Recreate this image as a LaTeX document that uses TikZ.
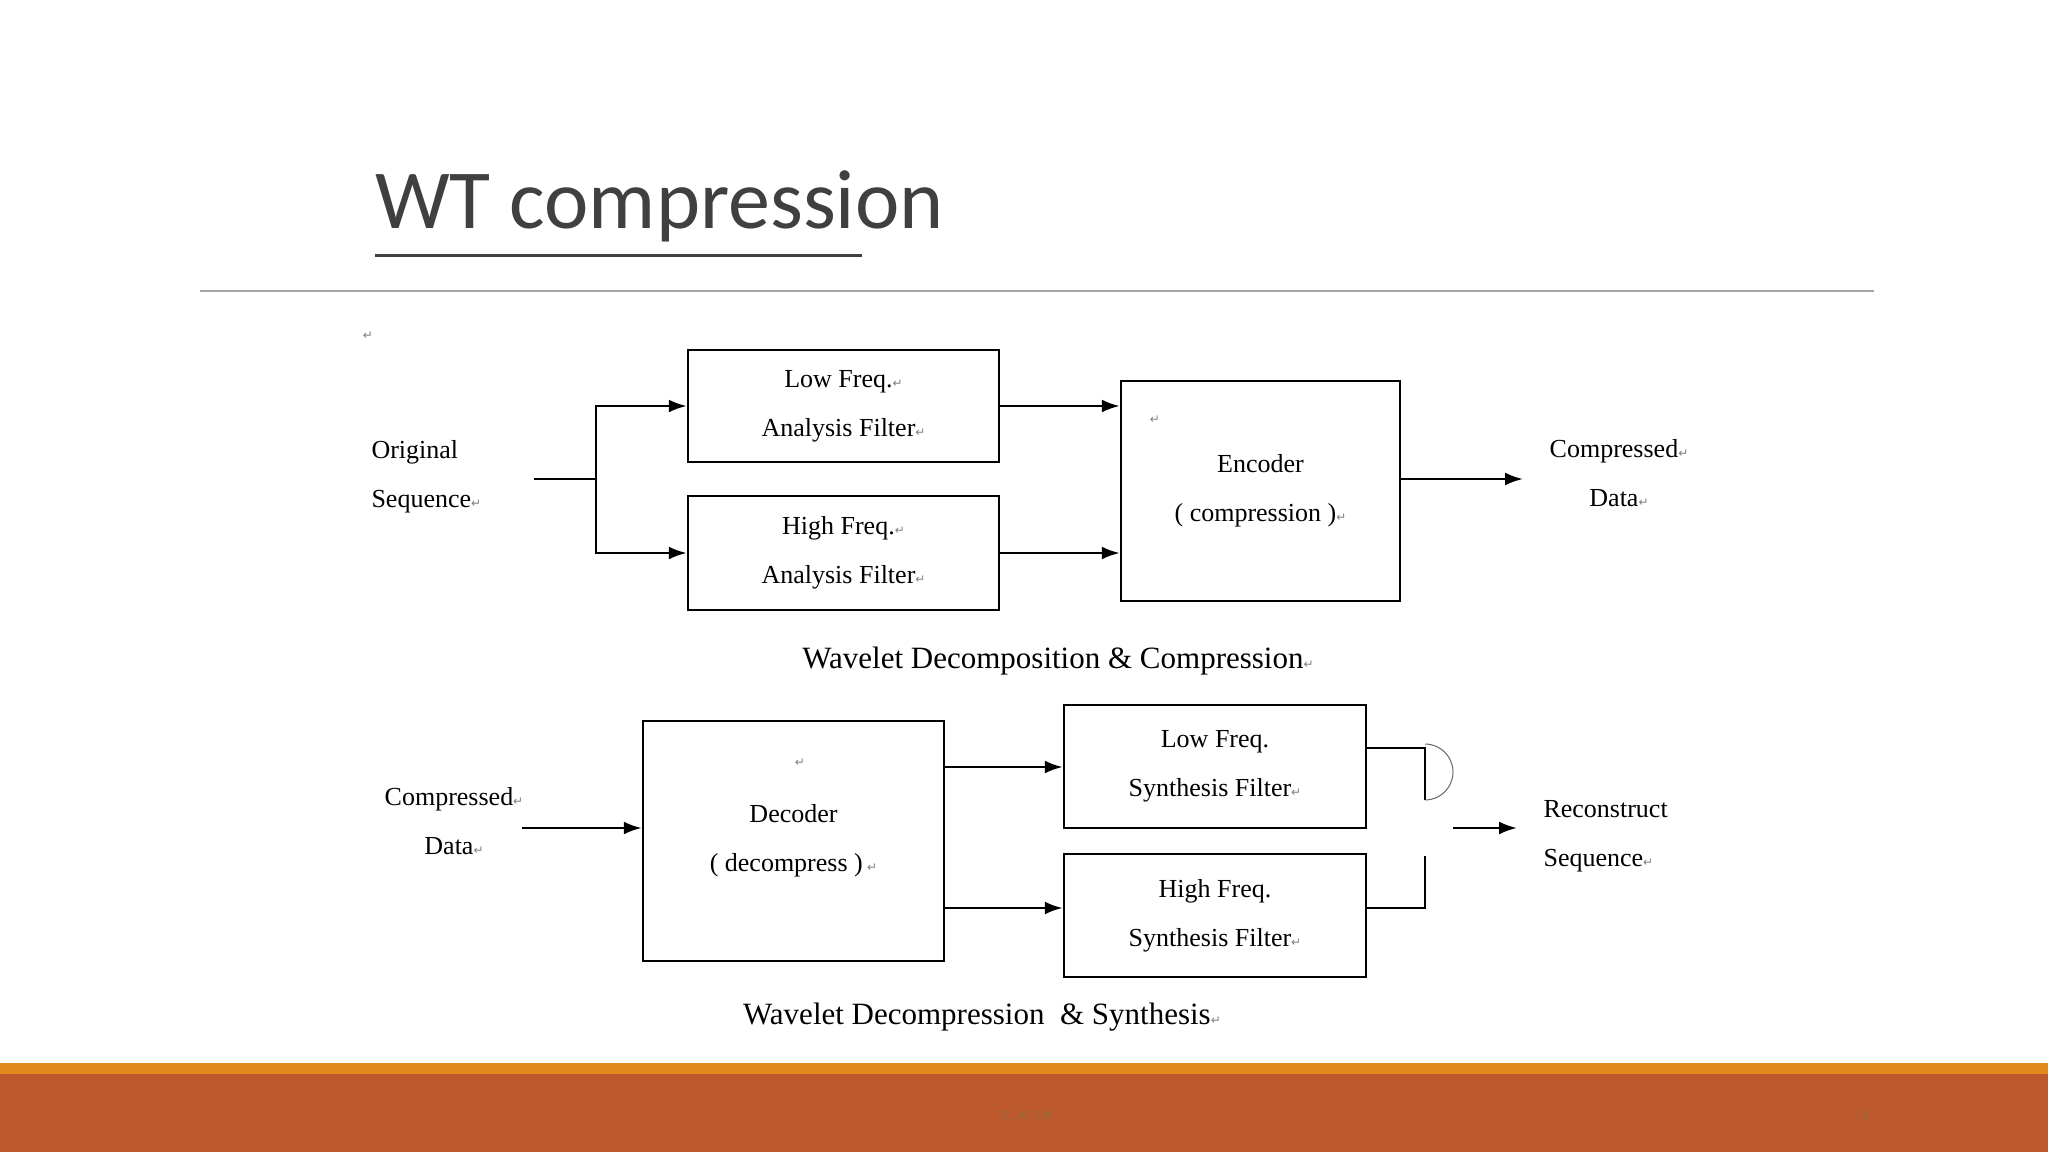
\documentclass[tikz,border=0pt]{standalone}
\usepackage{fontspec}
\setmainfont{Liberation Serif}
\newfontfamily\titlefont{Carlito}
\newfontfamily\symf{DejaVu Sans}
\usetikzlibrary{arrows.meta}
\definecolor{stripe}{RGB}{224,138,30}
\definecolor{rust}{RGB}{190,88,45}
\definecolor{foot}{RGB}{150,110,60}
\definecolor{tgray}{RGB}{64,64,64}
\newcommand{\rt}{{\symf\fontsize{12}{12}\selectfont\color{gray}↵}}
\begin{document}
\begin{tikzpicture}[x=1pt,y=-1pt,
  box/.style={draw,line width=2.5pt,minimum width=0pt},
  ln/.style={line width=2.5pt},
  ar/.style={line width=2.5pt,-{Latex[length=18pt,width=13pt]}},
  txt/.style={font=\fontsize{26}{49}\selectfont,align=center},
  captxt/.style={font=\fontsize{31}{36}\selectfont}]
\useasboundingbox (0,0) rectangle (2048,1152);
\fill[white] (0,0) rectangle (2048,1152);
\fill[stripe] (0,1063) rectangle (2048,1075);
\fill[rust] (0,1074) rectangle (2048,1152);
\node[font=\fontsize{12}{12}\selectfont\titlefont,text=foot] (ft) at (1025,1116) {EE LAB 530};
\node[font=\fontsize{12}{12}\selectfont\titlefont,text=foot] (pg) at (1863,1116) {31};
\node[anchor=base west,inner sep=0,font=\fontsize{84}{84}\selectfont\titlefont,text=tgray] (title) at (375,228) {WT compression};
\draw[line width=3pt,tgray] (title.south west)++(0,14) -- ++(487,0);
\draw[line width=1.5pt,gray!70] (200,291) -- (1874,291);
\node at (368,336) {\rt};
% top row
\node[box,minimum width=311pt,minimum height=112pt,txt] (la) at (843.5,406) {Low Freq.\rt\\Analysis Filter\rt};
\node[box,minimum width=311pt,minimum height=114pt,txt] (ha) at (843.5,553) {High Freq.\rt\\Analysis Filter\rt};
\node[box,minimum width=279pt,minimum height=220pt,txt] (enc) at (1260.5,491) {Encoder\\( compression )\rt};
\node at (1155,420) {\rt};
\node[txt,align=left,anchor=west] (os) at (368,477) {Original\\Sequence\rt};
\coordinate (j1) at (596,479);
\draw[ln] (534,479) -- (j1);
\draw[ar] (j1) |- (la.west);
\draw[ar] (j1) |- (ha.west);
\draw[ar] (la.east) -- (enc.west|-la.east);
\draw[ar] (ha.east) -- (enc.west|-ha.east);
\node[txt] (cd1) at (1619,473) {Compressed\rt\\Data\rt};
\draw[ar] (enc.east|-0,479) -- (1523,479);
\node[captxt] (c1) at (1058,661) {Wavelet Decomposition \& Compression\rt};
% bottom row
\node[box,minimum width=301pt,minimum height=240pt,txt] (dec) at (793.5,841) {Decoder\\( decompress )\,\rt};
\node at (800,763) {\rt};
\node[box,minimum width=302pt,minimum height=123pt,txt] (ls) at (1215,766.5) {Low Freq.\\Synthesis Filter\rt};
\node[box,minimum width=302pt,minimum height=123pt,txt] (hs) at (1215,915.5) {High Freq.\\Synthesis Filter\rt};
\node[txt] (cd2) at (454,821) {Compressed\rt\\Data\rt};
\draw[ar] (522,828) -- (dec.west|-0,828);
\draw[ar] (dec.east|-0,767) -- (ls.west|-0,767);
\draw[ar] (dec.east|-0,908) -- (hs.west|-0,908);
\coordinate (s1) at (1425,800);
\coordinate (s2) at (1425,856);
\draw[ln] (1366,748) -| (s1);
\draw[ln] (1366,908) -| (s2);
\draw[line width=1pt,gray!80!black] (s1) arc[start angle=90,end angle=-90,radius=28];
\draw[ar] (1453,828) -- (1517,828);
\node[txt,align=left,anchor=west] (rs) at (1540,836) {Reconstruct\\Sequence\rt};
\node[captxt] (c2) at (982,1017) {Wavelet Decompression \ \& Synthesis\rt};
\end{tikzpicture}
\end{document}
